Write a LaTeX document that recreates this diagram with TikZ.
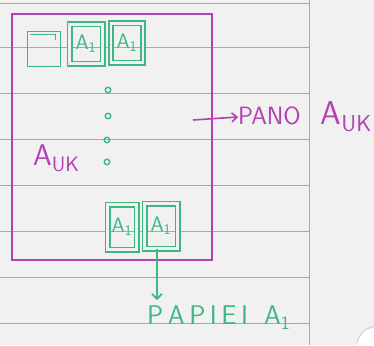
\documentclass[tikz,border=0pt]{standalone}
\usetikzlibrary{arrows.meta}
\definecolor{paper}{HTML}{F1F1F1}
\definecolor{rule}{HTML}{A8A8A8}
\definecolor{pen}{HTML}{B440B4}
\definecolor{mint}{HTML}{3DB883}
\tikzset{
  frame/.style={draw=pen, line width=2.3pt, rectangle, minimum width=200pt, minimum height=246pt, inner sep=0pt},
  sheet/.style={draw=mint, line width=1.8pt, rectangle, inner sep=0pt, text=mint, font=\sffamily\fontsize{21}{21}\selectfont},
  dblsheet/.style={sheet, double=paper, double distance=2.4pt},
  dotmark/.style={draw=mint, line width=1.4pt, circle, minimum size=5.5pt, inner sep=0pt},
  magtext/.style={text=pen, font=\sffamily\fontsize{30}{30}\selectfont, inner sep=0pt},
  grntext/.style={text=mint, font=\sffamily\fontsize{27}{27}\selectfont, inner sep=0pt},
  pinkarrow/.style={draw=pen, line width=1.6pt, -{Straight Barb[length=5pt,width=9pt]}},
  greenarrow/.style={draw=mint, line width=1.6pt, -{Straight Barb[length=5pt,width=10pt]}},
}
\begin{document}
\begin{tikzpicture}[x=1pt,y=-1pt]
\useasboundingbox (0,0) rectangle (374,345);
\fill[paper] (0,0) rectangle (374,345);
% ruled lines of the paper
\foreach \yy in {3,47,93,139,185,231,277,323}
  \draw[rule, line width=0.9pt] (0,\yy) -- (309,\yy);
\draw[rule, line width=0.9pt] (309,0) -- (309,345);
\fill[white] (376,347) circle (19);
\draw[rule!70, line width=0.6pt] (357,343) arc (190:270:20);

% large panel
\node[frame] (panel) at (112,137) {};

% top row of sheets
\node[sheet, minimum width=33pt, minimum height=35pt] (s1) at (44,49) {};
\draw[mint, line width=1.5pt] ([xshift=3pt,yshift=-4pt]s1.north west) -- ([xshift=-6pt,yshift=-4pt]s1.north east) -- ([xshift=-6pt,yshift=-9pt]s1.north east);
\node[dblsheet, minimum width=33pt, minimum height=39pt] (s2) at (86,44) {A\textsubscript{1}};
\node[dblsheet, minimum width=32pt, minimum height=39pt] (s3) at (127,43) {A\textsubscript{1}};

% dots
\node[dotmark] (d1) at (108,90) {};
\node[dotmark] (d2) at (108,116) {};
\node[dotmark] (d3) at (107,140) {};
\node[dotmark] (d4) at (107,162) {};

% bottom row of sheets
\node[dblsheet, minimum width=29pt, minimum height=45pt] (s4) at (122,227) {A\textsubscript{1}};
\node[dblsheet, minimum width=33pt, minimum height=45pt] (s5) at (161,226) {A\textsubscript{1}};

% label inside panel
\node[magtext, anchor=west] (auk) at (33,158) {A\textsubscript{UK}};

% label right
\node[text=pen, font=\sffamily\fontsize{25}{25}\selectfont, inner sep=0pt, anchor=west] (pano) at (238,117) {PANO\hspace{20pt}{\fontsize{33}{33}\selectfont A\textsubscript{UK}}};
\coordinate (pstart) at (193,120);
\draw[pinkarrow] (pstart) -- (pano.west);

% label bottom
\node[grntext, anchor=north west] (papier) at (147,306) {P\,A\,P\,I\,E\,I\hspace{16pt}A\textsubscript{1}};
\coordinate (gend) at (157,300);
\draw[greenarrow] ([xshift=-4pt]s5.south) -- (gend);
\end{tikzpicture}
\end{document}
